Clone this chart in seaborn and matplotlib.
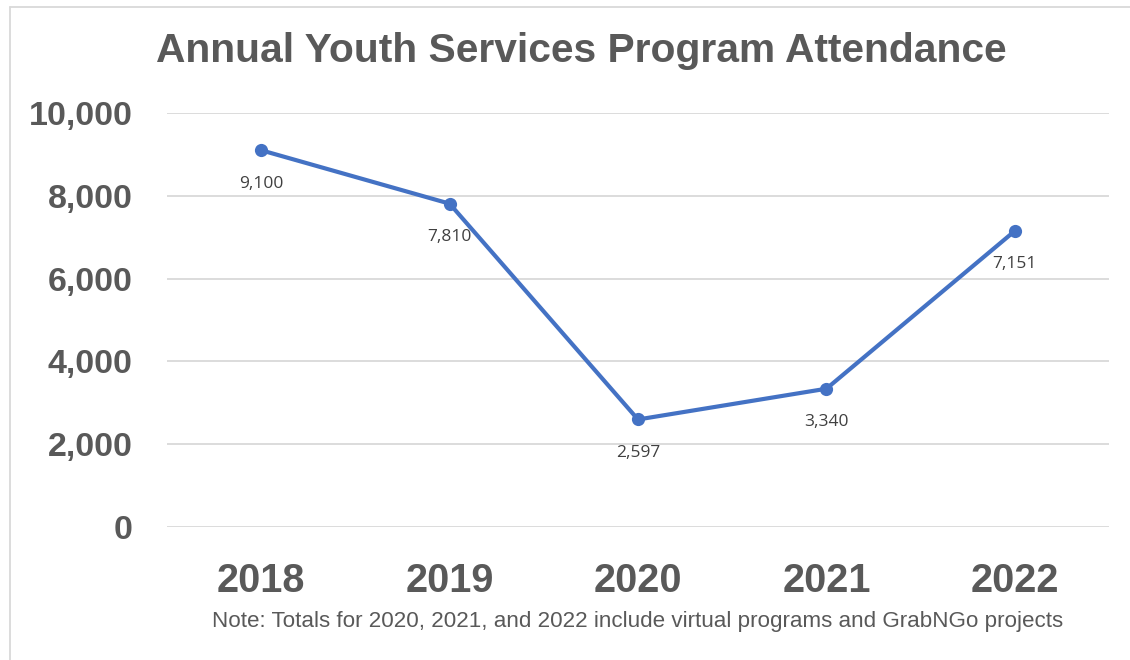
import matplotlib
matplotlib.use("Agg")
import matplotlib.pyplot as plt
import seaborn as sns
import pandas as pd
from matplotlib.lines import Line2D
from matplotlib.ticker import FuncFormatter

years = ["2018", "2019", "2020", "2021", "2022"]
attendance = [9100, 7810, 2597, 3340, 7151]
y_ticks = [0, 2000, 4000, 6000, 8000, 10000]

title = "Annual Youth Services Program Attendance"
note = "Note: Totals for 2020, 2021, and 2022 include virtual programs and GrabNGo projects"

sns.set_theme(style="white")
plt.rcParams["font.family"] = ["Liberation Sans", "DejaVu Sans"]

TEXT = "#595959"
LINE = "#4472C4"

df = pd.DataFrame({"year": years, "attendance": attendance})

fig = plt.figure(figsize=(11.3, 6.6), dpi=100)
ax = fig.add_axes([167 / 1130, 1 - 527 / 660, (1109 - 167) / 1130, (527 - 113) / 660])

sns.lineplot(data=df, x="year", y="attendance", ax=ax, color=LINE,
             linewidth=3, marker="o", markersize=9.5, markeredgewidth=0, sort=False)

for i, v in enumerate(attendance):
    ax.annotate(f"{v:,}", (i, v), xytext=(0, -24), textcoords="offset points",
                ha="center", va="center", fontsize=12.5, color="#404040",
                family=["Open Sans", "DejaVu Sans"])

ax.set_xlim(-0.5, len(years) - 0.5)
ax.set_ylim(0, 10000)
ax.set_yticks(y_ticks)
ax.yaxis.set_major_formatter(FuncFormatter(lambda v, p: f"{int(v):,}"))
ax.grid(axis="y", color="#d9d9d9", linewidth=1.3)
ax.set_axisbelow(True)
for s in ax.spines.values():
    s.set_visible(False)
ax.tick_params(axis="y", length=0, pad=25, labelsize=24.5, labelcolor=TEXT)
ax.tick_params(axis="x", length=0, pad=25, labelsize=28.5, labelcolor=TEXT)
for lab in ax.get_xticklabels() + ax.get_yticklabels():
    lab.set_fontweight("bold")
ax.set_xlabel("")
ax.set_ylabel("")

fig.text(581 / 1130, 1 - 51 / 660, title, ha="center", va="center",
         fontsize=29.3, fontweight="bold", color=TEXT)
fig.text(638 / 1130, 1 - 622 / 660, note, ha="center", va="center",
         fontsize=16.1, color=TEXT)

# chart frame
fig.add_artist(Line2D([10 / 1130, 10 / 1130], [0, 1 - 7 / 660], transform=fig.transFigure,
                      color="#d9d9d9", linewidth=1.3))
fig.add_artist(Line2D([10 / 1130, 1], [1 - 7 / 660, 1 - 7 / 660], transform=fig.transFigure,
                      color="#d9d9d9", linewidth=1.3))

fig.savefig("out.png", dpi=100, facecolor="white")
